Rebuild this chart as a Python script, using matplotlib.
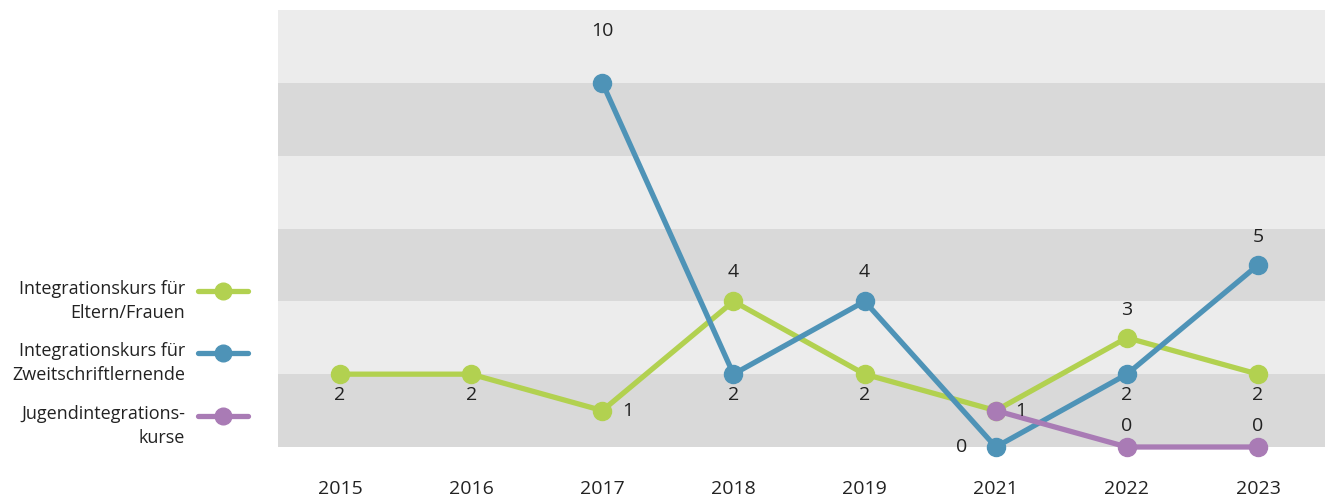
import matplotlib
matplotlib.use("Agg")
import matplotlib.pyplot as plt
from matplotlib.lines import Line2D
import numpy as np

years = ["2015", "2016", "2017", "2018", "2019", "2021", "2022", "2023"]
eltern = [2, 2, 1, 4, 2, 1, 3, 2]
zweitschrift = [None, None, 10, 2, 4, 0, 2, 5]
jugend = [None, None, None, None, None, 1, 0, 0]
series_names = ["Integrationskurs für\nEltern/Frauen",
                "Integrationskurs für\nZweitschriftlernende",
                "Jugendintegrations-\nkurse"]

colors = ["#b2d150", "#4e93b7", "#a97bb5"]
# label offsets in pixels (dx, dy) per point; None = no label
offsets = [
    [(0, -21), (0, -21), (25, 0), (0, 29), (0, -21), (25, 0), (0, 28), (0, -21)],
    [None, None, (0, 52), (0, -21), (0, 29), (-34, 0), (0, -21), (0, 28)],
    [None, None, None, None, None, None, (0, 21), (0, 21)],
]

plt.rcParams['font.family'] = ['Open Sans', 'DejaVu Sans']
fig = plt.figure(figsize=(13.25, 5), dpi=100)
ax = fig.add_axes([278/1325, 1-447/500, 1-278/1325, (447-10)/500])

for i, lo in enumerate(range(0, 12, 2)):
    ax.axhspan(lo, lo+2, color="#d9d9d9" if i % 2 == 0 else "#ececec", lw=0, zorder=0)

x = np.arange(len(years))
all_series = [eltern, zweitschrift, jugend]
for k, (vals, col) in enumerate(zip(all_series, colors)):
    xs = [xi for xi, v in zip(x, vals) if v is not None]
    ys = [v for v in vals if v is not None]
    ax.plot(xs, ys, color=col, lw=3.8, marker="o", ms=13, clip_on=False,
            zorder=3+k, solid_capstyle="round")
    for xi, v, off in zip(x, vals, offsets[k]):
        if v is None or off is None:
            continue
        ax.annotate(str(v), (xi, v), xytext=(off[0]*0.72, off[1]*0.72),
                    textcoords="offset points", ha="center", va="center",
                    fontsize=14, color="#222222", zorder=10)

ax.set_xlim(-0.473, 7.51)
ax.set_ylim(0, 12)
ax.set_xticks(x)
ax.set_xticklabels(years, fontsize=14, color="#222222")
ax.tick_params(axis="x", length=0, pad=24)
ax.set_yticks([])
for s in ax.spines.values():
    s.set_visible(False)

# legend
leg_y = [291, 353, 416]
for name, col, yy in zip(series_names, colors, leg_y):
    fy = 1 - yy/500
    fig.text(185/1325, fy + 0.022, name, ha="right", va="top",
             fontsize=13, color="#222222", linespacing=1.4,
             transform=fig.transFigure)
    fig.add_artist(Line2D([198/1325, 248/1325], [fy, fy], color=col, lw=3.8,
                          solid_capstyle="round", transform=fig.transFigure))
    fig.add_artist(Line2D([223/1325], [fy], color=col, marker="o", ms=12,
                          transform=fig.transFigure))

fig.savefig("out.png", dpi=100)
